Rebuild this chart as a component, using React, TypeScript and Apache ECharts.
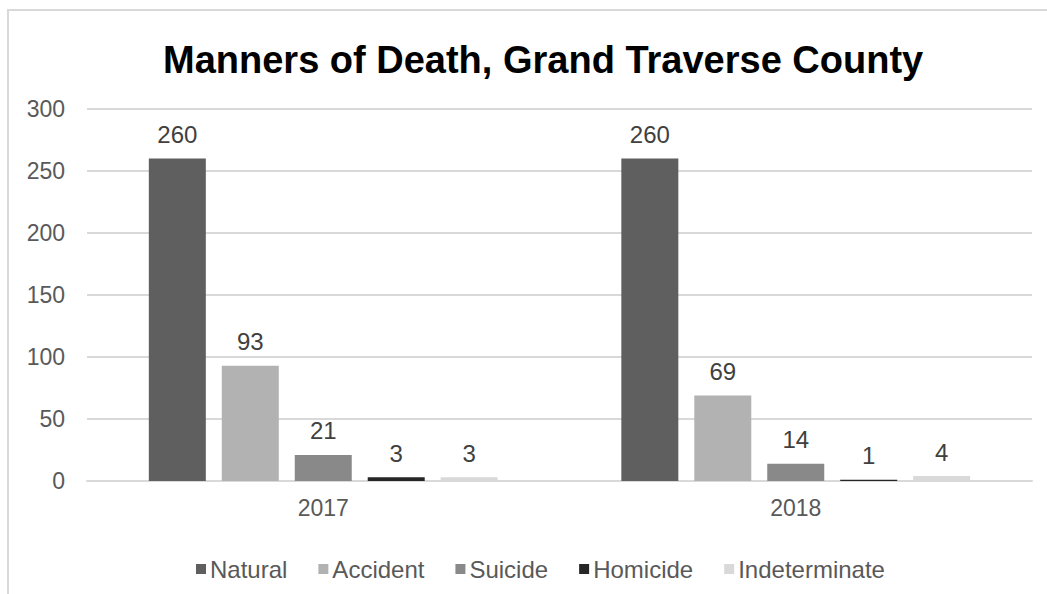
import React, { useEffect, useRef } from "react";
import * as echarts from "echarts";

const categories = ["2017", "2018"];
const seriesNames = ["Natural", "Accident", "Suicide", "Homicide", "Indeterminate"];
const natural = [260, 260];
const accident = [93, 69];
const suicide = [21, 14];
const homicide = [3, 1];
const indeterminate = [3, 4];
const yTicks = { min: 0, max: 300, interval: 50 };
const colors = ["#5f5f5f", "#b2b2b2", "#898989", "#262626", "#d9d9d9"];

export default function App() {
  const ref = useRef<HTMLDivElement>(null);
  useEffect(() => {
    document.body.style.margin = "0";
    const chart = echarts.init(ref.current!, null, { renderer: "svg" });
    const values = [natural, accident, suicide, homicide, indeterminate];
    const font = "'Liberation Sans', Arial, sans-serif";
    chart.setOption({
      animation: false,
      color: colors,
      title: {
        text: "Manners of Death, Grand Traverse County",
        left: 158,
        top: 36,
        textStyle: { fontFamily: font, fontWeight: "bold", fontSize: 38, color: "#000" },
      },
      graphic: [
        {
          type: "rect",
          shape: { x: 8, y: 10, width: 1200, height: 800 },
          style: { fill: "none", stroke: "#d9d9d9", lineWidth: 2 },
          silent: true,
        },
      ],
      legend: {
        data: seriesNames,
        left: 191,
        top: 552,
        itemWidth: 10,
        itemHeight: 10,
        itemGap: 31,
        icon: "rect",
        textStyle: { fontFamily: font, fontSize: 24, color: "#595959", padding: [0, 0, 0, -1] },
      },
      grid: { left: 87, right: 15, top: 109, bottom: 113, containLabel: false },
      xAxis: {
        type: "category",
        data: categories,
        axisTick: { show: false },
        axisLine: { lineStyle: { color: "#d9d9d9", width: 2 } },
        axisLabel: { fontFamily: font, fontSize: 23, color: "#595959", margin: 15 },
      },
      yAxis: {
        type: "value",
        min: yTicks.min,
        max: yTicks.max,
        interval: yTicks.interval,
        axisLine: { show: false },
        axisTick: { show: false },
        splitLine: { lineStyle: { color: "#d9d9d9", width: 2 } },
        axisLabel: { fontFamily: font, fontSize: 23, color: "#595959", margin: 22 },
      },
      series: seriesNames.map((name, i) => ({
        name,
        type: "bar",
        data: values[i],
        barWidth: 57,
        barGap: "28%",
        label: {
          show: true,
          position: "top",
          distance: 12,
          fontFamily: font,
          fontSize: 24,
          color: "#404040",
        },
      })),
    });
    return () => chart.dispose();
  }, []);
  return <div ref={ref} style={{ width: 1047, height: 594 }} />;
}
